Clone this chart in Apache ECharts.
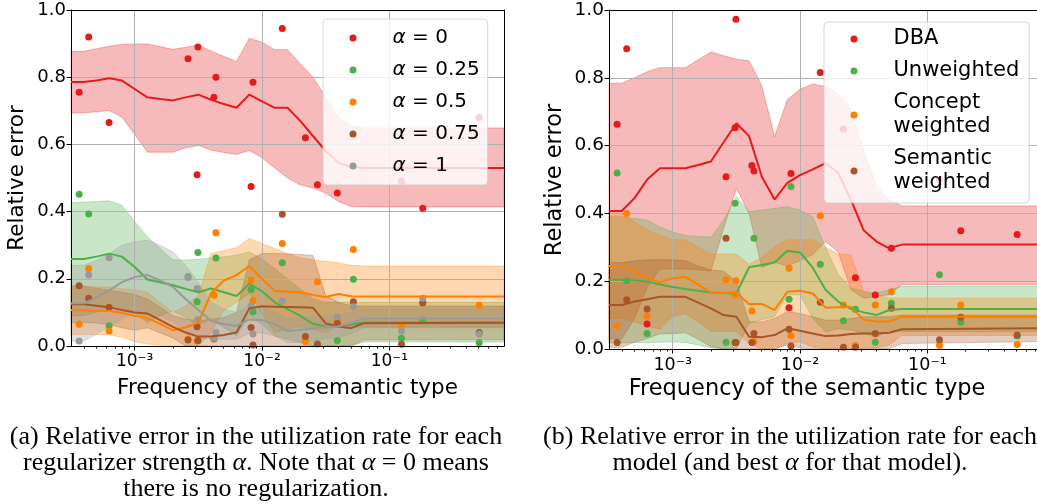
<!DOCTYPE html>
<html>
<head>
<meta charset="utf-8">
<title>Relative error vs frequency of the semantic type</title>
<script src="https://cdn.jsdelivr.net/npm/echarts@6/dist/echarts.min.js"></script>
<style>
  html, body { margin: 0; padding: 0; background: #fff; }
  #chart { width: 1037px; height: 504px; }
</style>
</head>
<body>
<div id="chart"></div>
<script>
// log10 frequency of each semantic type (same types in both panels)
const typeLogFreq = [-3.436, -3.361, -3.201, -2.581, -2.51, -2.503, -2.378, -2.362, -2.086, -2.071,
  -1.841, -1.659, -1.565, -1.409, -1.283, -0.905, -0.738, -0.295]
// log10 frequency grid of the smoothed curves / bands
const curveLogFreq = [-3.5, -3.4, -3.3, -3.2, -3.1, -3.0, -2.9, -2.8, -2.7, -2.6, -2.5, -2.4, -2.3,
  -2.2, -2.1, -2.0, -1.9, -1.8, -1.7, -1.6, -1.5, -1.4, -1.3, -1.2, -0.1]

const majorTicks = [-3, -2, -1]
const majorTickLabels = ['10⁻³', '10⁻²', '10⁻¹']
const yTicks = [0, 0.2, 0.4, 0.6, 0.8, 1.0]

// (a) regularizer strength
const alphaNames = ['α = 0', 'α = 0.25', 'α = 0.5', 'α = 0.75', 'α = 1']
const alpha0Points = [0.755, 0.92, 0.665, 0.855, 0.51, 0.89, 0.74, 0.80, 0.475, 0.785, 0.945, 0.62, 0.48, 0.455, null, 0.49, 0.41, 0.68]
const alpha0Mean = [0.786, 0.786, 0.79, 0.797, 0.79, 0.765, 0.74, 0.735, 0.731, 0.74, 0.748, 0.733, 0.72, 0.709, 0.748, 0.728, 0.709, 0.709, 0.67, 0.625, 0.58, 0.545, 0.533, 0.53, 0.53]
const alpha0Lo = [0.693, 0.694, 0.697, 0.701, 0.681, 0.63, 0.577, 0.577, 0.577, 0.59, 0.597, 0.583, 0.576, 0.57, 0.582, 0.56, 0.53, 0.5, 0.48, 0.47, 0.455, 0.43, 0.415, 0.414, 0.414]
const alpha0Hi = [0.877, 0.877, 0.885, 0.892, 0.898, 0.899, 0.899, 0.891, 0.883, 0.889, 0.896, 0.878, 0.862, 0.847, 0.916, 0.904, 0.882, 0.882, 0.84, 0.8, 0.74, 0.68, 0.655, 0.649, 0.649]

const alpha025Points = [0.452, 0.393, 0.06, 0.206, 0.132, 0.278, null, 0.262, 0.168, 0.102, 0.248, null, null, 0.016, 0.199, 0.023, 0.077, 0.01]
const alpha025Mean = [0.259, 0.259, 0.266, 0.275, 0.266, 0.235, 0.198, 0.19, 0.181, 0.17, 0.16, 0.171, 0.16, 0.149, 0.185, 0.163, 0.13, 0.11, 0.09, 0.066, 0.058, 0.057, 0.064, 0.07, 0.07]
const alpha025Lo = [0.09, 0.09, 0.1, 0.118, 0.113, 0.1, 0.07, 0.09, 0.105, 0.085, 0.062, 0.08, 0.055, 0.03, 0.09, 0.065, 0.03, 0.02, 0.01, 0, 0, 0, 0, 0.012, 0.012]
const alpha025Hi = [0.427, 0.428, 0.43, 0.432, 0.419, 0.37, 0.325, 0.29, 0.256, 0.256, 0.258, 0.262, 0.265, 0.27, 0.28, 0.26, 0.23, 0.2, 0.17, 0.14, 0.13, 0.13, 0.13, 0.13, 0.13]

const alpha05Points = [0.065, 0.231, 0.045, 0.021, 0.015, null, 0.152, 0.337, 0.196, 0.135, 0.305, 0.013, 0.191, 0.077, 0.287, 0.062, 0.129, 0.121]
const alpha05Mean = [0.107, 0.106, 0.105, 0.104, 0.098, 0.09, 0.083, 0.066, 0.047, 0.055, 0.07, 0.157, 0.195, 0.211, 0.238, 0.2, 0.164, 0.162, 0.16, 0.152, 0.146, 0.155, 0.148, 0.147, 0.147]
const alpha05Lo = [0.034, 0.034, 0.034, 0.033, 0.026, 0.013, 0.006, 0.002, 0, 0, 0, 0.04, 0.106, 0.13, 0.156, 0.095, 0.04, 0.049, 0.058, 0.048, 0.04, 0.062, 0.056, 0.056, 0.056]
const alpha05Hi = [0.18, 0.178, 0.176, 0.175, 0.17, 0.167, 0.16, 0.13, 0.1, 0.12, 0.15, 0.275, 0.284, 0.293, 0.32, 0.305, 0.29, 0.275, 0.262, 0.256, 0.252, 0.248, 0.24, 0.238, 0.238]

const alpha075Points = [0.179, 0.142, 0.115, 0.018, 0.057, 0.016, 0.021, null, 0.055, 0.003, 0.392, 0.028, 0.006, 0.067, 0.132, 0.005, 0.129, 0.04]
const alpha075Mean = [0.124, 0.124, 0.12, 0.115, 0.107, 0.1, 0.097, 0.077, 0.057, 0.04, 0.028, 0.028, 0.033, 0.04, 0.112, 0.118, 0.117, 0.116, 0.115, 0.114, 0.067, 0.058, 0.053, 0.068, 0.069]
const alpha075Lo = [0.07, 0.07, 0.068, 0.064, 0.054, 0.047, 0.054, 0.039, 0.024, 0, 0, 0, 0, 0, 0, 0, 0, 0, 0, 0, 0, 0, 0, 0.018, 0.019]
const alpha075Hi = [0.178, 0.178, 0.172, 0.166, 0.16, 0.153, 0.14, 0.115, 0.09, 0.08, 0.075, 0.08, 0.085, 0.1, 0.256, 0.275, 0.275, 0.274, 0.272, 0.27, 0.15, 0.13, 0.12, 0.119, 0.119]

const alpha1Points = [0.015, 0.211, 0.263, 0.204, 0.171, 0.079, 0.023, 0.04, 0.119, 0.036, 0.135, null, null, 0.087, 0.117, 0.045, 0.142, 0.036]
const alpha1Mean = [0.127, 0.127, 0.145, 0.166, 0.19, 0.205, 0.211, 0.195, 0.176, 0.14, 0.107, 0.075, 0.065, 0.06, 0.079, 0.077, 0.065, 0.045, 0.048, 0.053, 0.056, 0.058, 0.068, 0.082, 0.082]
const alpha1Lo = [0.015, 0.015, 0.035, 0.057, 0.08, 0.1, 0.107, 0.09, 0.072, 0.04, 0.024, 0.02, 0.02, 0.02, 0.038, 0.039, 0.03, 0.01, 0.011, 0.016, 0.022, 0.026, 0.036, 0.054, 0.054]
const alpha1Hi = [0.24, 0.24, 0.255, 0.275, 0.3, 0.31, 0.315, 0.3, 0.28, 0.24, 0.19, 0.13, 0.11, 0.1, 0.12, 0.115, 0.1, 0.08, 0.085, 0.09, 0.09, 0.09, 0.1, 0.11, 0.11]

// (b) models
const modelNames = ['DBA', 'Unweighted', 'Concept weighted', 'Semantic weighted']
const modelLegendLabels = ['DBA', 'Unweighted', 'Concept\nweighted', 'Semantic\nweighted']
const dbaPoints = [0.663, 0.886, 0.074, 0.508, 0.653, 0.973, 0.541, 0.525, 0.122, 0.518, 0.816, 0.649, 0.21, 0.159, 0.297, 0.5, 0.349, 0.338]
const dbaMean = [0.407, 0.407, 0.445, 0.5, 0.533, 0.533, 0.533, 0.543, 0.553, 0.61, 0.666, 0.628, 0.508, 0.441, 0.49, 0.513, 0.53, 0.548, 0.52, 0.44, 0.35, 0.317, 0.297, 0.308, 0.308]
const dbaLo = [0.03, 0.03, 0.09, 0.182, 0.236, 0.236, 0.236, 0.233, 0.23, 0.355, 0.474, 0.4, 0.24, 0.256, 0.245, 0.26, 0.278, 0.317, 0.286, 0.175, 0.15, 0.155, 0.16, 0.19, 0.19]
const dbaHi = [0.784, 0.784, 0.8, 0.818, 0.83, 0.83, 0.83, 0.853, 0.876, 0.865, 0.855, 0.85, 0.776, 0.626, 0.735, 0.766, 0.782, 0.774, 0.754, 0.705, 0.587, 0.479, 0.44, 0.422, 0.422]

const unwPoints = [0.519, 0.201, 0.046, 0.02, 0.43, null, null, 0.327, 0.147, 0.479, 0.25, 0.083, 0.117, 0.02, 0.135, 0.219, 0.079, 0.038]
const unwMean = [0.204, 0.204, 0.202, 0.199, 0.19, 0.183, 0.177, 0.172, 0.167, 0.165, 0.164, 0.241, 0.248, 0.255, 0.29, 0.285, 0.24, 0.175, 0.14, 0.118, 0.108, 0.1, 0.115, 0.118, 0.118]
const unwLo = [0.018, 0.018, 0.019, 0.018, 0.02, 0.021, 0.019, 0.012, 0.004, 0, 0, 0.077, 0.086, 0.095, 0.16, 0.16, 0.09, 0.05, 0.06, 0.056, 0.046, 0.035, 0.055, 0.051, 0.051]
const unwHi = [0.39, 0.39, 0.385, 0.38, 0.36, 0.345, 0.335, 0.332, 0.33, 0.38, 0.45, 0.405, 0.41, 0.415, 0.42, 0.41, 0.39, 0.3, 0.22, 0.18, 0.17, 0.165, 0.175, 0.185, 0.185]

const conceptPoints = [0.068, 0.4, 0.097, 0.204, 0.159, 0.201, 0.112, 0.022, 0.238, 0.039, 0.393, 0.13, 0.01, 0.13, 0.169, 0.01, 0.13, 0.013]
const conceptMean = [0.245, 0.245, 0.228, 0.209, 0.197, 0.209, 0.213, 0.19, 0.166, 0.166, 0.166, 0.133, 0.133, 0.115, 0.169, 0.172, 0.164, 0.122, 0.123, 0.125, 0.086, 0.081, 0.081, 0.095, 0.095]
const conceptLo = [0.09, 0.09, 0.08, 0.067, 0.059, 0.096, 0.104, 0.08, 0.052, 0.052, 0.052, 0.016, 0, 0, 0.016, 0.022, 0.006, 0, 0, 0, 0.003, 0.003, 0.012, 0.04, 0.04]
const conceptHi = [0.4, 0.4, 0.375, 0.351, 0.335, 0.322, 0.322, 0.3, 0.28, 0.28, 0.28, 0.25, 0.27, 0.3, 0.322, 0.322, 0.322, 0.3, 0.28, 0.277, 0.169, 0.159, 0.15, 0.15, 0.15]

const semanticPoints = [0.019, 0.145, 0.118, 0.327, 0.019, 0.019, 0.019, 0.046, 0.058, 0.009, 0.138, 0.005, 0.005, 0.046, 0.12, 0.027, 0.094, 0.041]
const semanticMean = [0.13, 0.13, 0.14, 0.147, 0.154, 0.154, 0.154, 0.137, 0.12, 0.1, 0.095, 0.036, 0.035, 0.041, 0.061, 0.054, 0.046, 0.038, 0.04, 0.044, 0.046, 0.046, 0.048, 0.058, 0.061]
const semanticLo = [0.005, 0.005, 0.02, 0.031, 0.045, 0.045, 0.048, 0.029, 0.007, 0, 0, 0, 0, 0, 0.012, 0.003, 0, 0, 0, 0, 0, 0, 0.001, 0.016, 0.022]
const semanticHi = [0.255, 0.255, 0.26, 0.263, 0.263, 0.263, 0.26, 0.245, 0.233, 0.23, 0.2, 0.08, 0.08, 0.09, 0.11, 0.105, 0.095, 0.085, 0.085, 0.09, 0.095, 0.095, 0.095, 0.1, 0.1]

// Set1 colours
const colors = ['228,26,28', '77,175,74', '255,127,0', '166,86,40', '153,153,153']

// minor ticks of the log axis (2..9 x 10^k)
const minorTicks = []
for (let k = -4; k <= -1; k++) {
  for (let m = 2; m <= 9; m++) {
    const v = k + Math.log10(m)
    if (v > -3.5 && v < -0.1) minorTicks.push(v)
  }
}

const series = []
// band (fill between lo and hi), mean line, then the points
function addGroup (name, c, pts, mean, lo, hi, xi, yi) {
  const base = { xAxisIndex: xi, yAxisIndex: yi, silent: true }
  series.push({
    ...base, name: name + ' band', type: 'custom', z: 1,
    data: curveLogFreq.map((x, i) => [x, lo[i], hi[i]]),
    encode: { x: 0, y: [1, 2] },
    renderItem (params, api) {
      if (params.dataIndex !== 0) return
      const upper = curveLogFreq.map((x, i) => api.coord([x, hi[i]]))
      const lower = curveLogFreq.map((x, i) => api.coord([x, lo[i]])).reverse()
      return {
        type: 'polygon',
        shape: { points: upper.concat(lower) },
        style: { fill: `rgba(${c},0.3)`, stroke: `rgba(${c},0.3)`, lineWidth: 1 }
      }
    }
  })
  series.push({
    ...base, name: name + ' mean', type: 'line',
    data: curveLogFreq.map((x, i) => [x, mean[i]]),
    symbol: 'none', lineStyle: { color: `rgb(${c})`, width: 2 }, z: 4
  })
  series.push({
    ...base, name, type: 'scatter',
    data: typeLogFreq.map((x, i) => [x, pts[i]]).filter(d => d[1] !== null),
    symbolSize: 7, itemStyle: { color: `rgb(${c})`, opacity: 1 }, z: 3
  })
}

addGroup(alphaNames[0], colors[0], alpha0Points, alpha0Mean, alpha0Lo, alpha0Hi, 0, 0)
addGroup(alphaNames[1], colors[1], alpha025Points, alpha025Mean, alpha025Lo, alpha025Hi, 0, 0)
addGroup(alphaNames[2], colors[2], alpha05Points, alpha05Mean, alpha05Lo, alpha05Hi, 0, 0)
addGroup(alphaNames[3], colors[3], alpha075Points, alpha075Mean, alpha075Lo, alpha075Hi, 0, 0)
addGroup(alphaNames[4], colors[4], alpha1Points, alpha1Mean, alpha1Lo, alpha1Hi, 0, 0)

addGroup(modelNames[0], colors[0], dbaPoints, dbaMean, dbaLo, dbaHi, 3, 2)
addGroup(modelNames[1], colors[1], unwPoints, unwMean, unwLo, unwHi, 3, 2)
addGroup(modelNames[2], colors[2], conceptPoints, conceptMean, conceptLo, conceptHi, 3, 2)
addGroup(modelNames[3], colors[3], semanticPoints, semanticMean, semanticLo, semanticHi, 3, 2)

const font = 'DejaVu Sans'

function mainX (gi, fs) {
  return {
    type: 'value', gridIndex: gi, min: -3.5, max: -0.1, position: 'bottom', z: 2,
    axisLine: { show: false },
    axisTick: { show: true, customValues: majorTicks, length: 4.5, lineStyle: { color: '#000' } },
    axisLabel: {
      customValues: majorTicks, margin: 7, color: '#000', fontSize: fs, fontFamily: font,
      formatter: v => majorTickLabels[majorTicks.indexOf(v)] || ''
    },
    splitLine: { show: true, lineStyle: { color: '#b0b0b0', width: 1 } }
  }
}
function minorX (gi) {
  return {
    type: 'value', gridIndex: gi, min: -3.5, max: -0.1, position: 'bottom', z: 5,
    axisLine: { show: true, lineStyle: { color: '#000', width: 1 } },
    axisTick: { show: true, customValues: minorTicks, length: 2.5, lineStyle: { color: '#000' } },
    axisLabel: { show: false },
    splitLine: { show: false }
  }
}
function spineX (gi) {
  return {
    type: 'value', gridIndex: gi, min: -3.5, max: -0.1, position: 'top', z: 5,
    axisLine: { show: true, lineStyle: { color: '#000', width: 1 } },
    axisTick: { show: false }, axisLabel: { show: false }, splitLine: { show: false }
  }
}
function mainY (gi, fs) {
  return {
    type: 'value', gridIndex: gi, min: 0, max: 1, interval: 0.2, position: 'left', z: 2,
    axisLine: { show: true, lineStyle: { color: '#000', width: 1 } },
    axisTick: { show: true, length: 4.5, lineStyle: { color: '#000' } },
    axisLabel: { margin: 5, color: '#000', fontSize: fs, fontFamily: font, formatter: v => v.toFixed(1) },
    splitLine: { show: true, lineStyle: { color: '#b0b0b0', width: 1 } }
  }
}
function spineY (gi) {
  return {
    type: 'value', gridIndex: gi, min: 0, max: 1, position: 'right', z: 5,
    axisLine: { show: true, lineStyle: { color: '#000', width: 1 } },
    axisTick: { show: false }, axisLabel: { show: false }, splitLine: { show: false }
  }
}

function legendBox (names, labels, left, top, fs, pad) {
  return {
    data: names.map(n => ({ name: n, icon: 'circle' })),
    orient: 'vertical', left, top,
    itemWidth: 7, itemHeight: 7, itemGap: 8,
    padding: pad,
    backgroundColor: 'rgba(255,255,255,0.8)',
    borderColor: 'rgba(204,204,204,0.8)', borderWidth: 1, borderRadius: 4,
    selectedMode: false,
    formatter: n => labels[names.indexOf(n)].replace('α', '{m|α}'),
    textStyle: {
      fontSize: fs, lineHeight: 24, color: '#000', fontFamily: font, padding: [0, 0, 0, 31],
      rich: { m: { fontSize: fs, lineHeight: 24, fontStyle: 'italic', fontFamily: font, color: '#000' } }
    },
    z: 6
  }
}

function label (text, x, y, fs, rot) {
  return {
    type: 'text', x, y, rotation: rot || 0, z: 10,
    style: { text, fontSize: fs, fontFamily: font, fill: '#000', align: 'center', verticalAlign: 'middle' }
  }
}
const serif = 'Liberation Serif'
function caption (text, x, y) {
  return {
    type: 'text', x, y, z: 10,
    style: {
      text, fontSize: 26, fontFamily: serif, fill: '#000', align: 'center', verticalAlign: 'top', lineHeight: 26,
      rich: { m: { fontSize: 26, fontFamily: serif, fontStyle: 'italic', lineHeight: 26 } }
    }
  }
}

const chart = echarts.init(document.getElementById('chart'), null, { renderer: 'canvas' })
chart.setOption({
  animation: false,
  backgroundColor: '#fff',
  textStyle: { fontFamily: font },
  grid: [
    { left: 71, top: 10, width: 433, height: 336, outerBoundsMode: 'none', containLabel: false },
    { left: 609, top: 10, width: 433, height: 339, outerBoundsMode: 'none', containLabel: false }
  ],
  xAxis: [mainX(0, 17), minorX(0), spineX(0), mainX(1, 17.5), minorX(1), spineX(1)],
  yAxis: [mainY(0, 18), spineY(0), mainY(1, 18.5), spineY(1)],
  legend: [
    legendBox(alphaNames, alphaNames, 323, 19, 20, [7, 8, 7, 26.5]),
    legendBox(modelNames, modelLegendLabels, 824, 22, 21, [5, 10, 8, 26.5])
  ],
  graphic: [
    label('Relative error', 17, 178, 21.5, Math.PI / 2),
    label('Relative error', 555, 180, 22.5, Math.PI / 2),
    label('Frequency of the semantic type', 287.5, 388, 21.5),
    label('Frequency of the semantic type', 807, 389, 22.5),
    caption('(a) Relative error in the utilization rate for each\nregularizer strength {m|α}. Note that {m|α} = 0 means\nthere is no regularization.', 256, 424),
    caption('(b) Relative error in the utilization rate for each\nmodel (and best {m|α} for that model).', 790, 424)
  ],
  series
})
</script>
</body>
</html>
